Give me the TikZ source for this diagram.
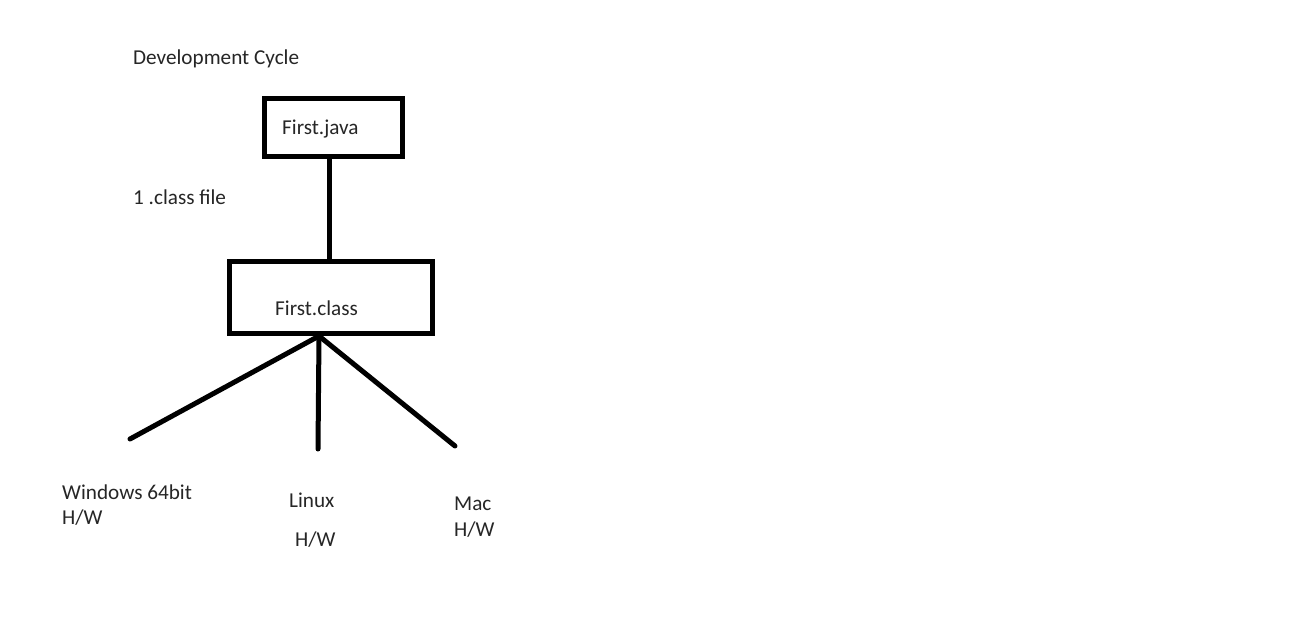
\documentclass[tikz,border=0pt]{standalone}
\usepackage{fontspec}
\setmainfont{Carlito}
\begin{document}
\begin{tikzpicture}[x=1pt,y=-1pt,
  lbl/.style={font=\fontsize{21.2}{25}\selectfont,text=black!85,inner sep=0pt,anchor=west},
  boxst/.style={draw=black,line width=5pt,inner sep=0pt},
  leg/.style={line width=5pt,line cap=round}]
\useasboundingbox (0,0) rectangle (1296,616);
\fill[white] (0,0) rectangle (1296,616);
\node[lbl] (title) at (133,59) {Development Cycle};
\node[lbl] (note) at (133,197) {1 .class file};
\node[boxst,minimum width=138pt,minimum height=58pt] (java) at (333,127) {};
\node[lbl] (javat) at (282,129) {First.java};
\node[boxst,minimum width=203pt,minimum height=72pt] (cls) at (331,297.5) {};
\node[lbl] (clst) at (275,308) {First.class};
\coordinate (top) at (329,156);
\coordinate (bot) at (329,261);
\draw[line width=5pt] (top) -- (bot);
\coordinate (hub) at (319,336);
\coordinate (w) at (130,439);
\coordinate (l) at (318,449);
\coordinate (m) at (455,446);
\draw[leg] (hub) -- (w);
\draw[leg] (hub) -- (l);
\draw[leg] (hub) -- (m);
\node[lbl] (win) at (62,492) {Windows 64bit};
\node[lbl] (winhw) at (62,518) {H/W};
\node[lbl] (lin) at (289,500) {Linux};
\node[lbl] (linhw) at (295,540) {H/W};
\node[lbl] (mac) at (454,504) {Mac};
\node[lbl] (machw) at (454,530) {H/W};
\end{tikzpicture}
\end{document}
